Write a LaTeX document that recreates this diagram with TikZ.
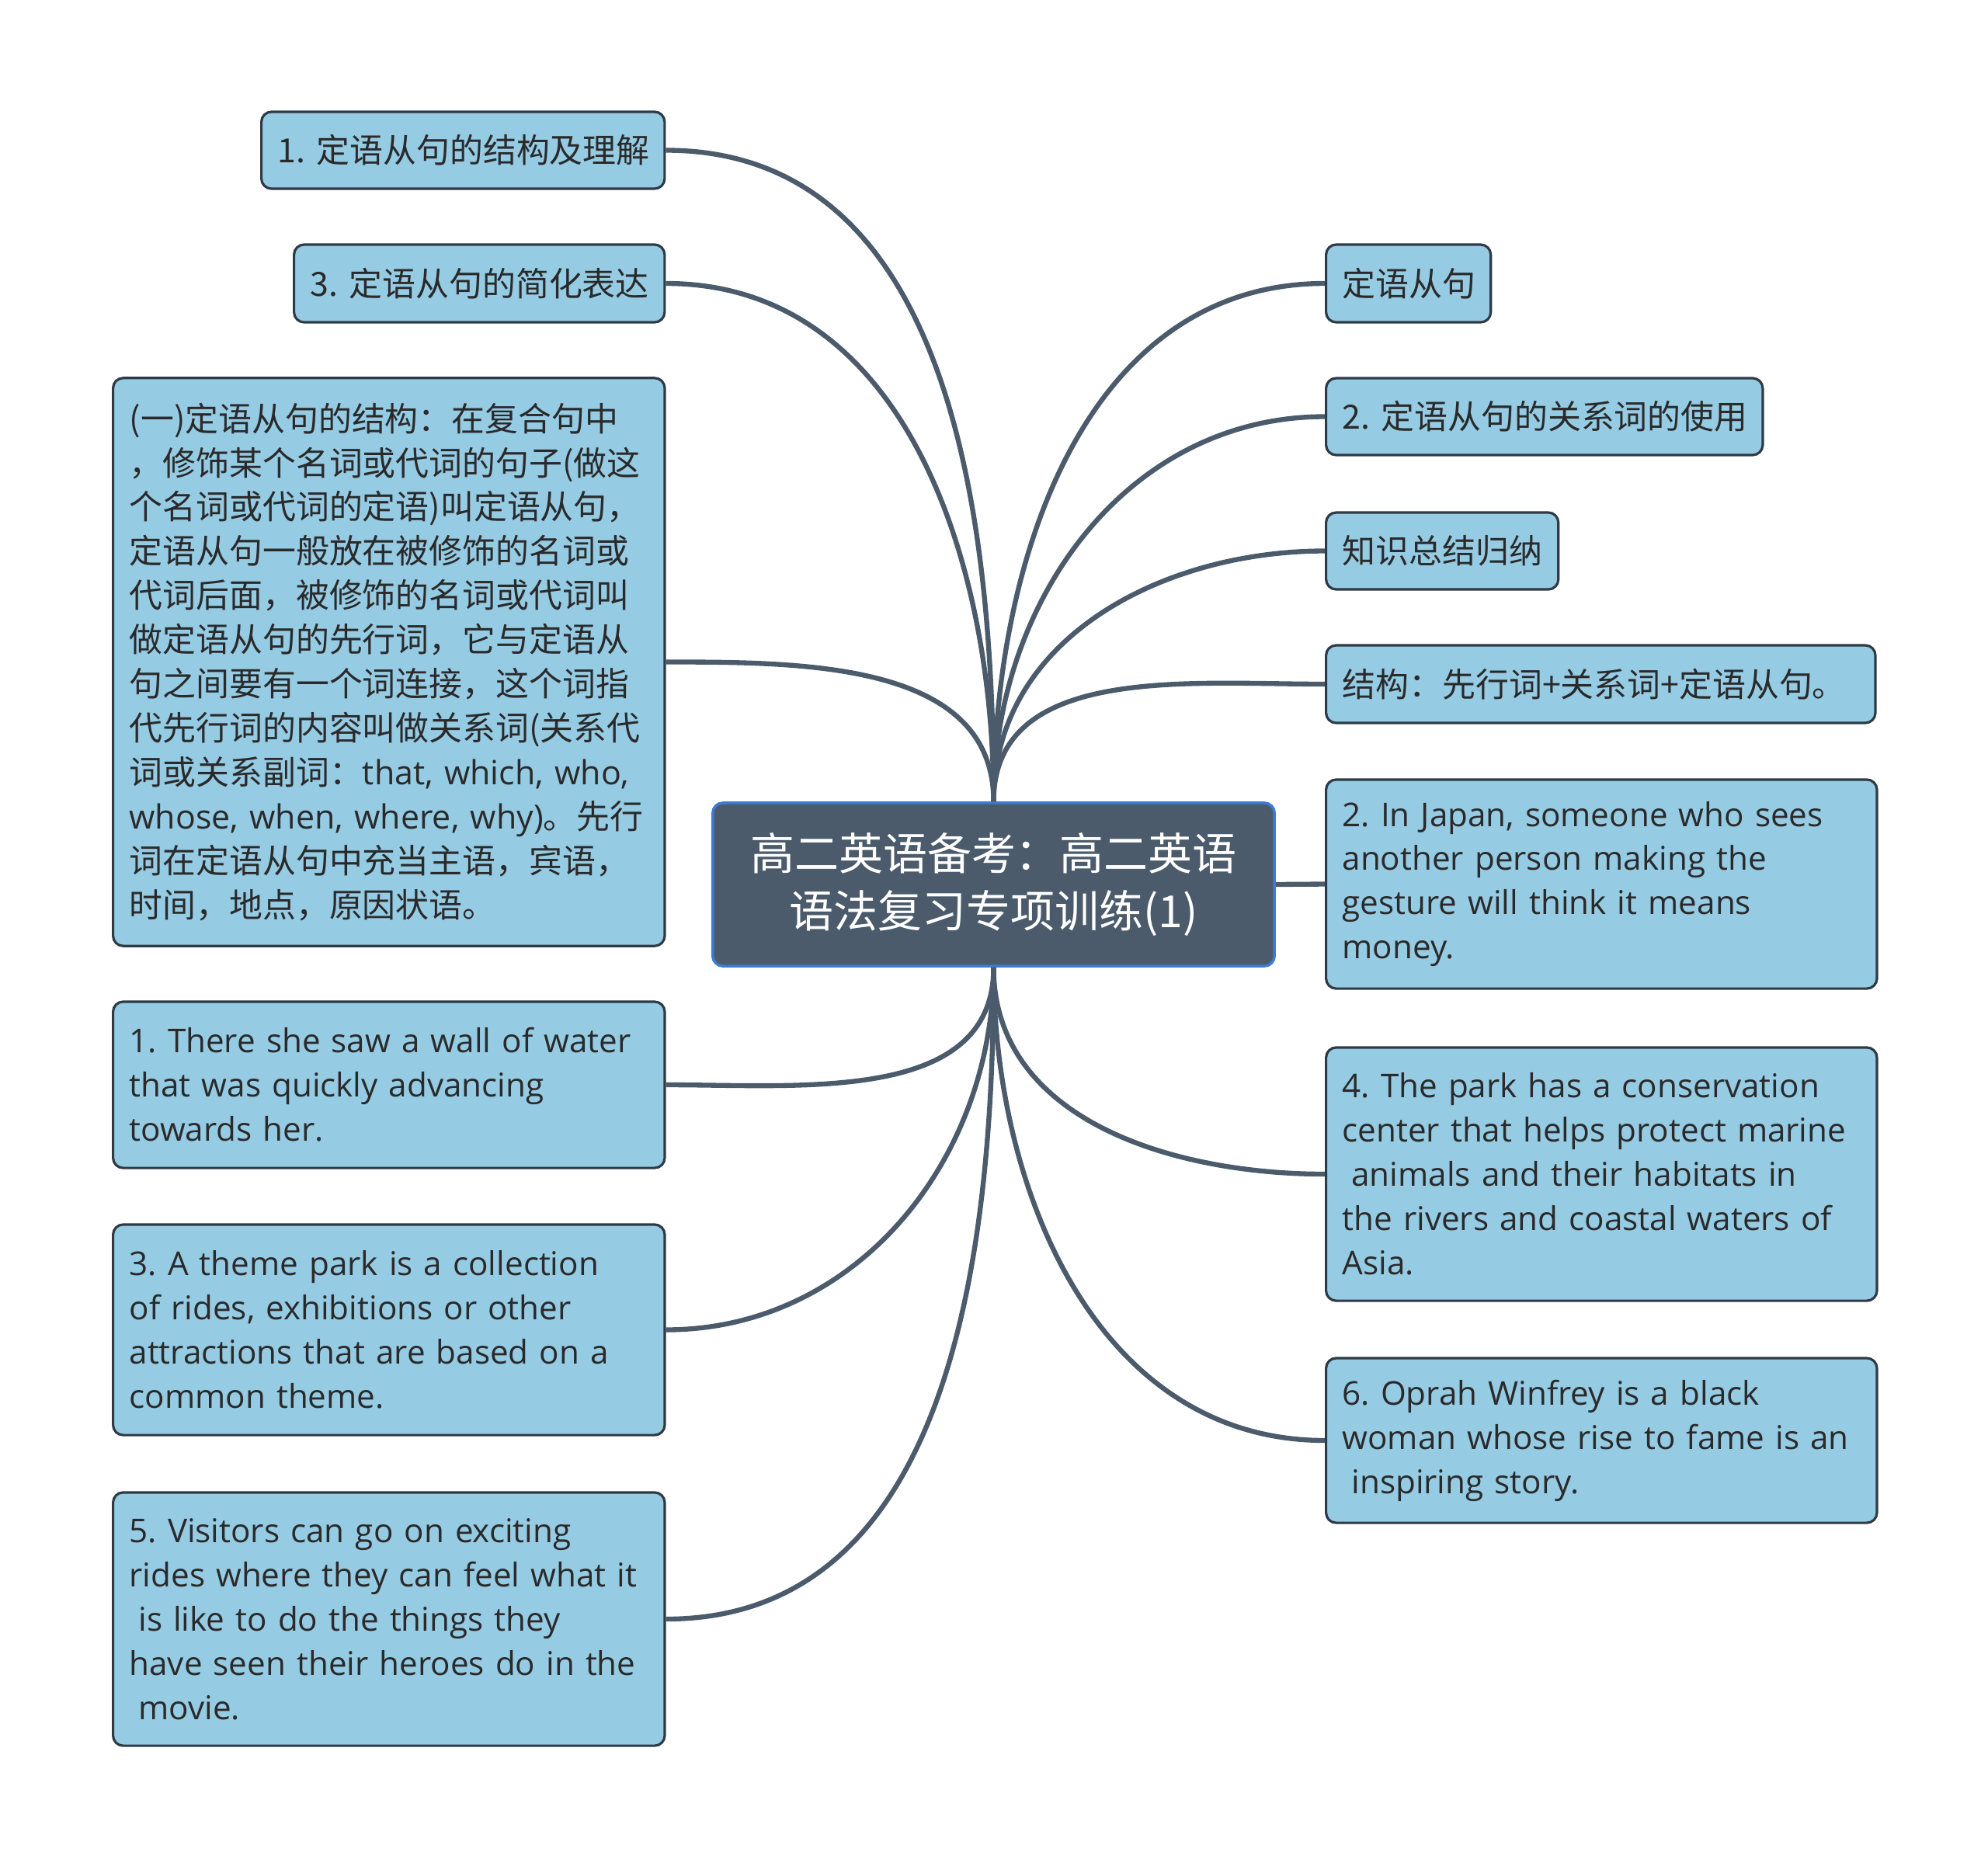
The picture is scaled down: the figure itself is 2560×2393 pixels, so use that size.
\documentclass[tikz,border=0pt]{standalone}
\usepackage{fontspec}
\setmainfont{Open Sans}
\newfontfamily\cjk{Noto Sans CJK SC}
\newfontfamily\en{Open Sans}
\usepackage{xcolor}
\definecolor{boxfill}{HTML}{96CBE4}
\definecolor{boxline}{HTML}{2E3A44}
\definecolor{hubfill}{HTML}{4B5B6B}
\definecolor{hubline}{HTML}{3C7CD2}
\definecolor{linkcol}{HTML}{4B5B6B}
\definecolor{txt}{HTML}{2A2A2A}
\usetikzlibrary{positioning}
\frenchspacing

\begin{document}
\begin{tikzpicture}[x=0.01cm, y=-0.01cm,
  box/.style 2 args={draw=boxline, fill=boxfill, line width=0.9pt, rounded corners=0.13cm,
    anchor=west, inner xsep=0.21cm, inner ysep=0pt, align=left, text=txt,
    text width=#1, minimum height=#2},
  zh/.style={font=\cjk\fontsize{12.2}{16.2}\selectfont},
  enf/.style={font=\en\fontsize{12}{16.2}\selectfont},
  link/.style={draw=linkcol, line width=1.8pt}]

\useasboundingbox (0,0) rectangle (2560,2393);

% central topic
\node[draw=hubline, fill=hubfill, line width=1pt, rounded corners=0.13cm, minimum width=7.23cm,
  minimum height=2.1cm, align=center, text=white, font=\cjk\fontsize{16.2}{20.8}\selectfont]
  (hub) at (1279.5,1139) {高二英语备考：高二英语\\语法复习专项训练(1)};

% left side
\node[box={4.77cm}{0.99cm}, zh] (jiegou) at (335,193.5) {\mbox{1.~定语从句的结构及理解}};
\node[box={4.35cm}{1.0cm}, zh] (jianhua) at (377,365) {\mbox{3.~定语从句的简化表达}};
\node[box={6.68cm}{7.31cm}, zh] (dingyi) at (144,852.5) {(一)定语从句的结构：在复合句中\\
，修饰某个名词或代词的句子(做这\\
个名词或代词的定语)叫定语从句，\\
定语从句一般放在被修饰的名词或\\
代词后面，被修饰的名词或代词叫\\
做定语从句的先行词，它与定语从\\
句之间要有一个词连接，这个词指\\
代先行词的内容叫做关系词(关系代\\
词或关系副词：{\en that, which, who,}\\
{\en whose, when, where, why)}。先行\\
词在定语从句中充当主语，宾语，\\
时间，地点，原因状语。};
\node[box={6.68cm}{2.14cm}, enf] (wall) at (144,1397) {1. There she saw a wall of water\\
that was quickly advancing\\
towards her.};
\node[box={6.68cm}{2.71cm}, enf] (theme) at (144,1712.5) {3. A theme park is a collection\\
of rides, exhibitions or other\\
attractions that are based on a\\
common theme.};
\node[box={6.68cm}{3.26cm}, enf] (visitors) at (144,2085) {5. Visitors can go on exciting\\
rides where they can feel what it\\
\hspace*{0.28em}is like to do the things they\\
have seen their heroes do in the\\
\hspace*{0.28em}movie.};

% right side
\node[box={1.70cm}{1.0cm}, zh] (clause) at (1706,365) {定语从句};
\node[box={5.20cm}{0.99cm}, zh] (guanxi) at (1706,536.5) {\mbox{2.~定语从句的关系词的使用}};
\node[box={2.57cm}{0.99cm}, zh] (zongjie) at (1706,709.5) {知识总结归纳};
\node[box={6.65cm}{1.0cm}, zh] (struct) at (1706,881) {结构：先行词+关系词+定语从句。};
\node[box={6.67cm}{2.69cm}, enf] (japan) at (1706,1138.5) {2. In Japan, someone who sees\\
another person making the\\
gesture will think it means\\
money.};
\node[box={6.67cm}{3.26cm}, enf] (park) at (1706,1512) {4. The park has a conservation\\
center that helps protect marine\\
\hspace*{0.28em}animals and their habitats in\\
the rivers and coastal waters of\\
Asia.};
\node[box={6.67cm}{2.12cm}, enf] (oprah) at (1706,1855) {6. Oprah Winfrey is a black\\
woman whose rise to fame is an\\
\hspace*{0.28em}inspiring story.};

% connectors
\draw[link] (hub.north) to[out=90, in=0] (jiegou.east);
\draw[link] (hub.north) to[out=90, in=0] (jianhua.east);
\draw[link] (hub.north) to[out=90, in=0] (dingyi.east);
\draw[link] (hub.south) to[out=-90, in=0] (wall.east);
\draw[link] (hub.south) to[out=-90, in=0] (theme.east);
\draw[link] (hub.south) to[out=-90, in=0] (visitors.east);
\draw[link] (hub.north) to[out=90, in=180] (clause.west);
\draw[link] (hub.north) to[out=90, in=180] (guanxi.west);
\draw[link] (hub.north) to[out=90, in=180] (zongjie.west);
\draw[link] (hub.north) to[out=90, in=180] (struct.west);
\draw[link] (hub.east) -- (japan.west);
\draw[link] (hub.south) to[out=-90, in=180] (park.west);
\draw[link] (hub.south) to[out=-90, in=180] (oprah.west);

\end{tikzpicture}
\end{document}
